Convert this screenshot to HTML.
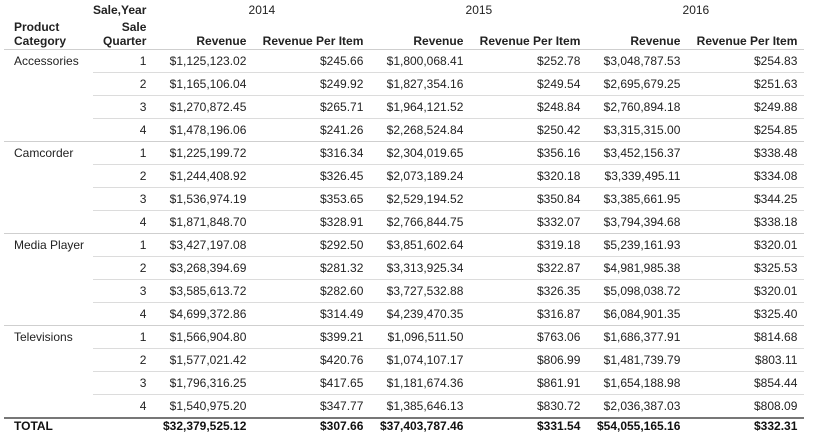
<!DOCTYPE html><html><head><style>
body{margin:0;background:#fff;font-family:"Liberation Sans",Arial,sans-serif;font-size:12px;color:#222}
table{position:absolute;left:4px;top:0;border-collapse:collapse;table-layout:fixed}
td,th{padding:0 7px 0 0;text-align:right;white-space:nowrap;font-weight:normal}
td.c{text-align:left;padding-left:10px}
tbody td{height:22px;border-bottom:1px solid #dcdcdc;vertical-align:middle}
tbody td.c{border-bottom:none}
tbody tr.e td{border-bottom:1px solid #cfcfcf}
tbody tr.e td.c{border-bottom:1px solid #cfcfcf}
thead th{vertical-align:bottom}
.h1 th{height:20px;vertical-align:middle}
.h2 th{height:28px;border-bottom:1px solid #cfcfcf;padding-bottom:1px;font-weight:bold;line-height:14px}
.yr{text-align:center;padding:0}
tfoot td{height:14px;border-top:2px solid #777;font-weight:bold;color:#111;padding-top:0;vertical-align:top;line-height:14px}
</style></head><body>
<table>
<colgroup><col style="width:89px"><col style="width:56px"><col style="width:100px"><col style="width:117px"><col style="width:100px"><col style="width:117px"><col style="width:100px"><col style="width:117px"></colgroup>
<thead>
<tr class="h1"><th></th><th style="font-weight:bold">Sale,Year</th><th class="yr" colspan="2">2014</th><th class="yr" colspan="2">2015</th><th class="yr" colspan="2">2016</th></tr>
<tr class="h2"><th style="text-align:left;padding-left:10px">Product<br>Category</th><th>Sale<br>Quarter</th><th>Revenue</th><th>Revenue Per Item</th><th>Revenue</th><th>Revenue Per Item</th><th>Revenue</th><th>Revenue Per Item</th></tr>
</thead>
<tbody>
<tr><td class="c">Accessories</td><td>1</td><td>$1,125,123.02</td><td>$245.66</td><td>$1,800,068.41</td><td>$252.78</td><td>$3,048,787.53</td><td>$254.83</td></tr>
<tr><td class="c"></td><td>2</td><td>$1,165,106.04</td><td>$249.92</td><td>$1,827,354.16</td><td>$249.54</td><td>$2,695,679.25</td><td>$251.63</td></tr>
<tr><td class="c"></td><td>3</td><td>$1,270,872.45</td><td>$265.71</td><td>$1,964,121.52</td><td>$248.84</td><td>$2,760,894.18</td><td>$249.88</td></tr>
<tr class="e"><td class="c"></td><td>4</td><td>$1,478,196.06</td><td>$241.26</td><td>$2,268,524.84</td><td>$250.42</td><td>$3,315,315.00</td><td>$254.85</td></tr>
<tr><td class="c">Camcorder</td><td>1</td><td>$1,225,199.72</td><td>$316.34</td><td>$2,304,019.65</td><td>$356.16</td><td>$3,452,156.37</td><td>$338.48</td></tr>
<tr><td class="c"></td><td>2</td><td>$1,244,408.92</td><td>$326.45</td><td>$2,073,189.24</td><td>$320.18</td><td>$3,339,495.11</td><td>$334.08</td></tr>
<tr><td class="c"></td><td>3</td><td>$1,536,974.19</td><td>$353.65</td><td>$2,529,194.52</td><td>$350.84</td><td>$3,385,661.95</td><td>$344.25</td></tr>
<tr class="e"><td class="c"></td><td>4</td><td>$1,871,848.70</td><td>$328.91</td><td>$2,766,844.75</td><td>$332.07</td><td>$3,794,394.68</td><td>$338.18</td></tr>
<tr><td class="c">Media Player</td><td>1</td><td>$3,427,197.08</td><td>$292.50</td><td>$3,851,602.64</td><td>$319.18</td><td>$5,239,161.93</td><td>$320.01</td></tr>
<tr><td class="c"></td><td>2</td><td>$3,268,394.69</td><td>$281.32</td><td>$3,313,925.34</td><td>$322.87</td><td>$4,981,985.38</td><td>$325.53</td></tr>
<tr><td class="c"></td><td>3</td><td>$3,585,613.72</td><td>$282.60</td><td>$3,727,532.88</td><td>$326.35</td><td>$5,098,038.72</td><td>$320.01</td></tr>
<tr class="e"><td class="c"></td><td>4</td><td>$4,699,372.86</td><td>$314.49</td><td>$4,239,470.35</td><td>$316.87</td><td>$6,084,901.35</td><td>$325.40</td></tr>
<tr><td class="c">Televisions</td><td>1</td><td>$1,566,904.80</td><td>$399.21</td><td>$1,096,511.50</td><td>$763.06</td><td>$1,686,377.91</td><td>$814.68</td></tr>
<tr><td class="c"></td><td>2</td><td>$1,577,021.42</td><td>$420.76</td><td>$1,074,107.17</td><td>$806.99</td><td>$1,481,739.79</td><td>$803.11</td></tr>
<tr><td class="c"></td><td>3</td><td>$1,796,316.25</td><td>$417.65</td><td>$1,181,674.36</td><td>$861.91</td><td>$1,654,188.98</td><td>$854.44</td></tr>
<tr><td class="c"></td><td>4</td><td>$1,540,975.20</td><td>$347.77</td><td>$1,385,646.13</td><td>$830.72</td><td>$2,036,387.03</td><td>$808.09</td></tr>
</tbody>
<tfoot><tr><td class="c">TOTAL</td><td></td><td>$32,379,525.12</td><td>$307.66</td><td>$37,403,787.46</td><td>$331.54</td><td>$54,055,165.16</td><td>$332.31</td></tr></tfoot>
</table>
</body></html>
